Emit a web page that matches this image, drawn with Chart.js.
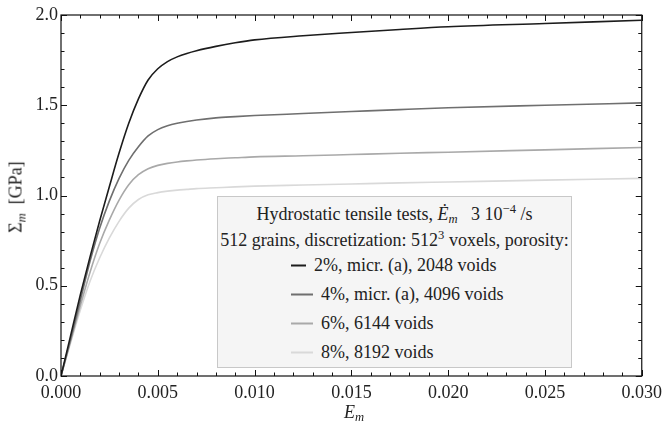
<!DOCTYPE html>
<html>
<head>
<meta charset="utf-8">
<script src="https://cdn.jsdelivr.net/npm/chart.js@4.4.1/dist/chart.umd.min.js"></script>
<style>
  html, body { margin: 0; padding: 0; background: #fff; }
  #wrap { position: relative; width: 668px; height: 430px; font-family: 'Liberation Serif'; color: #222; }
  #c { position: absolute; left: 0; top: 0; }
  .ov { position: absolute; white-space: nowrap; font-family: 'Liberation Serif'; }
  #ytitle { left: 16px; top: 197px; transform: translate(-50%, -50%) rotate(-90deg); font-size: 18px; }
  #xtitle { left: 354px; top: 412px; transform: translate(-50%, -50%); font-size: 18px; }
  #legend { left: 217px; top: 196px; width: 355px; height: 172px; background: #f5f5f5; border: 1px solid #c8c8c8; box-sizing: border-box; font-size: 18px; }
  .lrow { position: absolute; left: 0; width: 100%; text-align: center; transform: translateY(-50%); }
  .item { position: absolute; transform: translateY(-50%); }
  .sw { display: inline-block; vertical-align: middle; height: 2px; margin-right: 8px; position: relative; top: -1px; }
  sub { font-size: 70%; font-style: italic; vertical-align: -0.3em; line-height: 0; }
  sup { font-size: 70%; vertical-align: 0.5em; line-height: 0; }
</style>
</head>
<body>
<div id="wrap">
  <canvas id="c" width="668" height="430"></canvas>
  <div class="ov" id="ytitle">Σ<sub>m</sub>&nbsp;&nbsp;[GPa]</div>
  <div class="ov" id="xtitle"><i>E</i><sub>m</sub></div>
  <div class="ov" id="legend"></div>
</div>
<script>
// ---- data ----
const strain = [0, 0.0005, 0.001, 0.0015, 0.002, 0.0025, 0.003, 0.0035, 0.004, 0.0045, 0.005, 0.0055, 0.006, 0.0065, 0.007, 0.008, 0.009, 0.010, 0.0125, 0.015, 0.0175, 0.020, 0.025, 0.030];
const stress2pct = [0, 0.225, 0.45, 0.66, 0.86, 1.05, 1.235, 1.40, 1.535, 1.64, 1.702, 1.742, 1.768, 1.787, 1.802, 1.826, 1.846, 1.862, 1.885, 1.903, 1.92, 1.935, 1.953, 1.971];
const stress4pct = [0, 0.205, 0.42, 0.635, 0.82, 0.97, 1.095, 1.195, 1.27, 1.33, 1.365, 1.386, 1.40, 1.41, 1.418, 1.43, 1.437, 1.443, 1.454, 1.465, 1.476, 1.486, 1.50, 1.513];
const stress6pct = [0, 0.195, 0.39, 0.575, 0.735, 0.865, 0.975, 1.06, 1.115, 1.148, 1.167, 1.178, 1.186, 1.192, 1.197, 1.204, 1.209, 1.214, 1.22, 1.227, 1.234, 1.24, 1.253, 1.266];
const stress8pct = [0, 0.185, 0.365, 0.525, 0.655, 0.765, 0.857, 0.93, 0.978, 1.004, 1.016, 1.024, 1.03, 1.034, 1.038, 1.043, 1.048, 1.052, 1.058, 1.064, 1.07, 1.075, 1.085, 1.095];
const seriesLabels = ["2%, micr. (a), 2048 voids", "4%, micr. (a), 4096 voids", "6%, 6144 voids", "8%, 8192 voids"];
const seriesColors = ["#1c1c1c", "#6f6f6f", "#a9a9a9", "#d9d9d9"];
const xTicks = [0, 0.005, 0.010, 0.015, 0.020, 0.025, 0.030];
const yTicks = [0, 0.5, 1.0, 1.5, 2.0];

const allStress = [stress2pct, stress4pct, stress6pct, stress8pct];
const datasets = allStress.map((s, i) => ({
  label: seriesLabels[i],
  data: strain.map((x, k) => ({ x: x, y: s[k] })),
  borderColor: seriesColors[i], backgroundColor: seriesColors[i],
  borderWidth: 1.6, pointRadius: 0, showLine: true, fill: false,
  cubicInterpolationMode: 'monotone'
}));

const FONT = { family: "'Liberation Serif'", size: 18 };

const framePlugin = {
  id: 'frame',
  afterDatasetsDraw(chart) {
    const { ctx, chartArea: a, scales } = chart;
    const xs = scales.x, ys = scales.y;
    ctx.save();
    ctx.strokeStyle = '#111';
    ctx.lineWidth = 1.2;
    ctx.strokeRect(a.left, a.top, a.right - a.left, a.bottom - a.top);
    ctx.lineWidth = 1;
    for (let k = 0; k <= 30; k++) {
      const px = Math.round(xs.getPixelForValue(k * 0.001)) + 0.5;
      const len = (k % 5 === 0) ? 6 : 3.5;
      ctx.beginPath();
      ctx.moveTo(px, a.bottom); ctx.lineTo(px, a.bottom - len);
      ctx.moveTo(px, a.top); ctx.lineTo(px, a.top + len);
      ctx.stroke();
    }
    for (let k = 0; k <= 20; k++) {
      const py = Math.round(ys.getPixelForValue(k * 0.1)) + 0.5;
      const len = (k % 5 === 0) ? 6 : 3.5;
      ctx.beginPath();
      ctx.moveTo(a.left, py); ctx.lineTo(a.left + len, py);
      ctx.moveTo(a.right, py); ctx.lineTo(a.right - len, py);
      ctx.stroke();
    }
    ctx.restore();
  }
};

new Chart(document.getElementById('c'), {
  type: 'scatter',
  data: { datasets },
  options: {
    responsive: false, animation: false, devicePixelRatio: 1,
    layout: { padding: { left: 0, right: 21, top: 15, bottom: 0 } },
    plugins: { legend: { display: false }, tooltip: { enabled: false } },
    scales: {
      x: {
        type: 'linear', min: 0, max: 0.03,
        afterBuildTicks: (s) => { s.ticks = xTicks.map(v => ({ value: v })); },
        afterFit: (s) => { s.height = 54; },
        ticks: { font: FONT, color: '#222', padding: 6, maxRotation: 0, autoSkip: false,
                 callback: (v) => Number(v).toFixed(3) },
        grid: { display: false, drawTicks: false }, border: { display: false }
      },
      y: {
        type: 'linear', min: 0, max: 2,
        afterBuildTicks: (s) => { s.ticks = yTicks.map(v => ({ value: v })); },
        afterFit: (s) => { s.width = 61; },
        ticks: { font: FONT, color: '#222', padding: 3, autoSkip: false,
                 callback: (v) => Number(v).toFixed(1) },
        grid: { display: false, drawTicks: false }, border: { display: false }
      }
    }
  },
  plugins: [framePlugin]
});

// ---- legend overlay built from the series arrays ----
const leg = document.getElementById('legend');
const h1 = document.createElement('div');
h1.className = 'lrow'; h1.style.top = '17px';
h1.innerHTML = 'Hydrostatic tensile tests, <i>E\u0307</i><sub>m</sub>&nbsp;&nbsp;&nbsp;3 10<sup>\u22124</sup> /s';
leg.appendChild(h1);
const h2 = document.createElement('div');
h2.className = 'lrow'; h2.style.top = '43px';
h2.innerHTML = '512 grains, discretization: 512<sup>3</sup> voxels, porosity:';
leg.appendChild(h2);
const rowTops = [68, 97, 126, 155];
const swLeft = [73, 73, 73, 73];
const swWidth = [15, 22, 22, 22];
seriesLabels.forEach((lab, i) => {
  const d = document.createElement('div');
  d.className = 'item';
  d.style.top = rowTops[i] + 'px';
  d.style.left = swLeft[i] + 'px';
  d.innerHTML = '<span class="sw" style="width:' + swWidth[i] + 'px;background:' + seriesColors[i] + '"></span>' + lab;
  leg.appendChild(d);
});
</script>
</body>
</html>
